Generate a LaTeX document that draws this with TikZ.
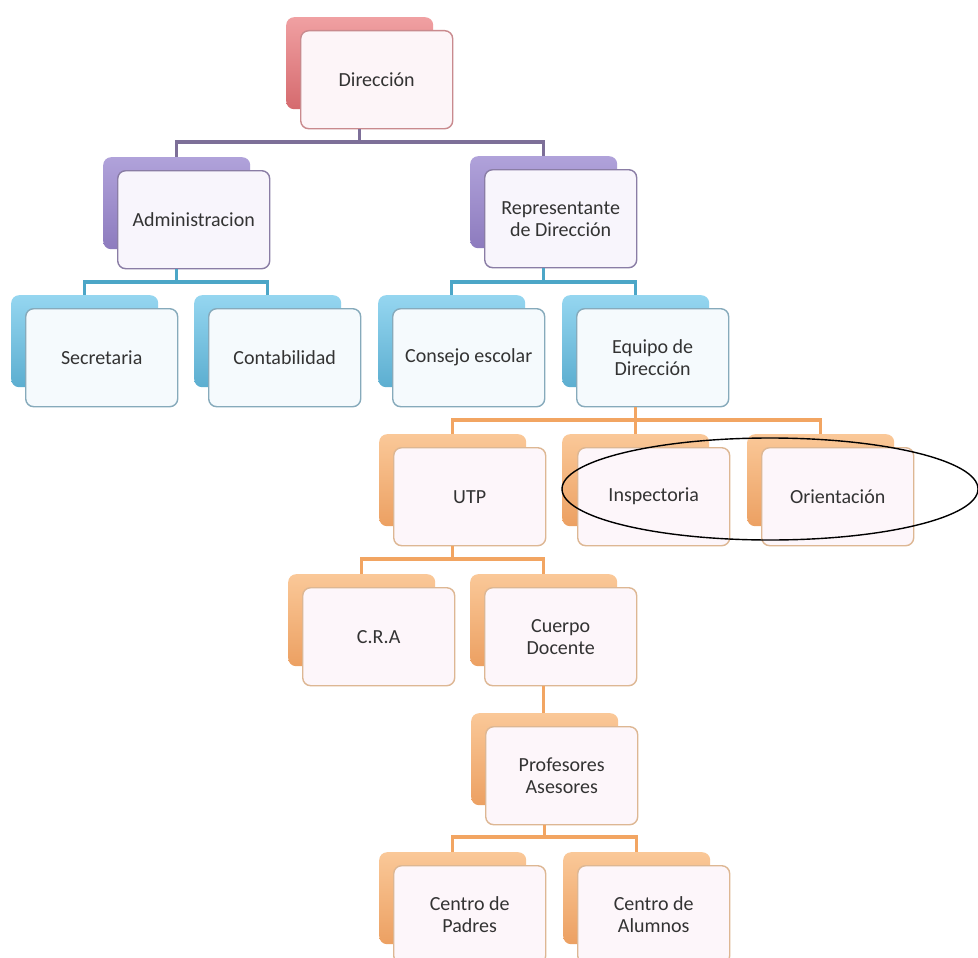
\documentclass[tikz,border=0pt]{standalone}
\usepackage{fontspec}
\setmainfont{Carlito}
\definecolor{redT}{HTML}{F0A0A2}
\definecolor{redD}{HTML}{D56A6E}
\definecolor{redBd}{HTML}{C98A8E}
\definecolor{redF}{HTML}{FDF5F8}
\definecolor{purT}{HTML}{B0A2DA}
\definecolor{purD}{HTML}{8D7BBE}
\definecolor{purBd}{HTML}{8A7DA5}
\definecolor{purF}{HTML}{F8F5FC}
\definecolor{purC}{HTML}{7D6F98}
\definecolor{teaT}{HTML}{95D6F0}
\definecolor{teaD}{HTML}{5CAED0}
\definecolor{teaBd}{HTML}{86AABB}
\definecolor{teaF}{HTML}{F5FAFD}
\definecolor{teaC}{HTML}{4CA6C7}
\definecolor{oraT}{HTML}{FAC898}
\definecolor{oraD}{HTML}{ECA062}
\definecolor{oraBd}{HTML}{DDB793}
\definecolor{oraF}{HTML}{FDF6FA}
\definecolor{oraC}{HTML}{F2A562}
\definecolor{txt}{HTML}{333333}
\tikzset{
  backbox/.style={rounded corners=8pt, minimum width=147pt, minimum height=92pt,
    anchor=north west, inner sep=0pt},
  frontbox/.style={rounded corners=8pt, minimum width=152pt, minimum height=98pt,
    anchor=north west, inner sep=0pt, align=center, text=txt, line width=1.4pt,
    font=\fontsize{20}{22}\selectfont},
  redB/.style={backbox, top color=redT, bottom color=redD},
  redFr/.style={frontbox, draw=redBd, fill=redF},
  purB/.style={backbox, top color=purT, bottom color=purD},
  purFr/.style={frontbox, draw=purBd, fill=purF},
  teaB/.style={backbox, top color=teaT, bottom color=teaD},
  teaFr/.style={frontbox, draw=teaBd, fill=teaF},
  oraB/.style={backbox, top color=oraT, bottom color=oraD},
  oraFr/.style={frontbox, draw=oraBd, fill=oraF},
  pconn/.style={draw=purC, line width=3.5pt},
  tconn/.style={draw=teaC, line width=3.5pt},
  oconn/.style={draw=oraC, line width=3.5pt},
}
\begin{document}
\begin{tikzpicture}[x=1pt,y=-1pt]
\useasboundingbox (0,0) rectangle (978,958);
\clip (0,0) rectangle (978,958);
\fill[white] (0,0) rectangle (978,958);
% back boxes
\node[redB] (dirB) at (286,17) {};
\node[purB] (admB) at (103,157) {};
\node[purB] (repB) at (470,156) {};
\node[teaB] (secB) at (11,295) {};
\node[teaB] (conB) at (194,295) {};
\node[teaB] (cesB) at (378,295) {};
\node[teaB] (equB) at (562,295) {};
\node[oraB] (utpB) at (379,434) {};
\node[oraB] (insB) at (562,434) {};
\node[oraB] (oriB) at (747,434) {};
\node[oraB] (craB) at (288,574) {};
\node[oraB] (cueB) at (470,574) {};
\node[oraB] (proB) at (471,713) {};
\node[oraB] (padB) at (379,852) {};
\node[oraB] (aluB) at (563,852) {};
% front boxes
\node[redFr] (dir) at (300,30) {Dirección};
\node[purFr] (adm) at (117,170) {Administracion};
\node[purFr] (rep) at (484,169) {Representante\\de Dirección};
\node[teaFr] (sec) at (25,308) {Secretaria};
\node[teaFr] (con) at (208,308) {Contabilidad};
\node[teaFr] (ces) at (392,308) {Consejo escolar};
\node[teaFr] (equ) at (576,308) {Equipo de\\Dirección};
\node[oraFr] (utp) at (393,447) {UTP};
\node[oraFr] (ins) at (577,447) {Inspectoria};
\node[oraFr] (ori) at (761,447) {Orientación};
\node[oraFr] (cra) at (302,587) {C.R.A};
\node[oraFr] (cue) at (484,587) {Cuerpo\\Docente};
\node[oraFr] (pro) at (485,726) {Profesores\\Asesores};
\node[oraFr] (pad) at (393,865) {Centro de\\Padres};
\node[oraFr] (alu) at (577,865) {Centro de\\Alumnos};
% bus levels
\coordinate (bus1) at (0,142);
\coordinate (bus2) at (0,282);
\coordinate (bus3) at (0,420);
\coordinate (bus4) at (0,559);
\coordinate (bus5) at (0,837);
% connectors
\draw[pconn] (dirB.center |- dir.south) -- (dirB.center |- bus1) -| (admB.north);
\draw[pconn] (dirB.center |- bus1) -| (repB.north);
\draw[tconn] (admB.center |- adm.south) -- (admB.center |- bus2) -| (secB.north);
\draw[tconn] (admB.center |- bus2) -| (conB.north);
\draw[tconn] (repB.center |- rep.south) -- (repB.center |- bus2) -| (cesB.north);
\draw[tconn] (repB.center |- bus2) -| (equB.north);
\draw[oconn] (equB.center |- equ.south) -- (equB.center |- bus3) -| (utpB.north);
\draw[oconn] (equB.center |- bus3) -| (oriB.north);
\draw[oconn] (equB.center |- bus3) -| (insB.north);
\draw[oconn] (utpB.center |- utp.south) -- (utpB.center |- bus4) -| (craB.north);
\draw[oconn] (utpB.center |- bus4) -| (cueB.north);
\draw[oconn] (cueB.center |- cue.south) -- (cueB.center |- proB.north);
\draw[oconn] (proB.center |- pro.south) -- (proB.center |- bus5) -| (padB.north);
\draw[oconn] (proB.center |- bus5) -| (aluB.north);
% hand-drawn ellipse
\draw[black, line width=1.4pt] (770,489) ellipse [x radius=208, y radius=51];
\end{tikzpicture}
\end{document}
